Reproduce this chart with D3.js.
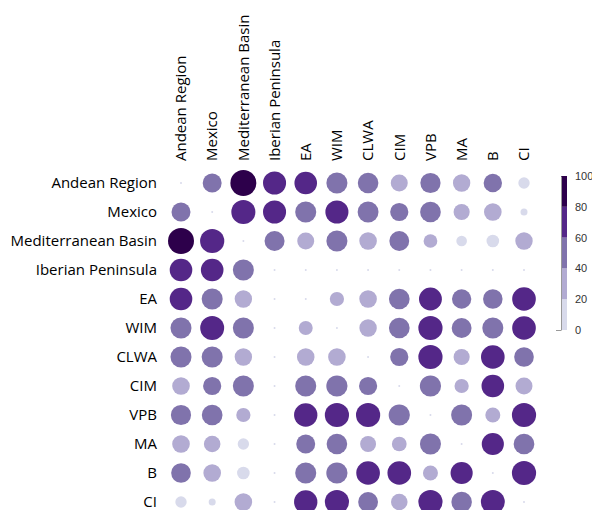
<!DOCTYPE html>
<html>
<head>
<meta charset="utf-8">
<script src="https://cdn.jsdelivr.net/npm/d3@7"></script>
<style>
  html, body { margin: 0; padding: 0; background: #fff; }
  svg { display: block; }
  .lbl { font-family: "Open Sans", sans-serif; font-size: 15px; fill: #000; }
  .cbar text { font-family: "Liberation Sans", Arial, sans-serif; font-size: 11px; fill: #333; }
</style>
</head>
<body>
<svg id="chart" width="592" height="510"></svg>
<script>
// Regions compared in the matrix (same order for rows and columns)
const regions = ["Andean Region", "Mexico", "Mediterranean Basin", "Iberian Peninsula",
                 "EA", "WIM", "CLWA", "CIM", "VPB", "MA", "B", "CI"];

// Pairwise values (0-100), one array per row region
const andeanRegion      = [ 0, 46, 92, 71, 68, 58, 55, 36, 53, 38, 43, 14];
const mexico            = [46,  0, 78, 71, 58, 71, 57, 42, 56, 32, 39,  4];
const mediterranean     = [92, 79,  0, 52, 36, 58, 39, 51, 22, 12, 18, 38];
const iberianPeninsula  = [68, 68, 58,  0,  0,  0,  0,  0,  0,  0,  0,  0];
const ea                = [68, 58, 38,  0,  0, 24, 39, 56, 70, 48, 49, 75];
const wim               = [58, 77, 58,  0, 23,  0, 38, 56, 79, 51, 58, 75];
const clwa              = [58, 58, 38,  0, 39, 39,  0, 42, 79, 32, 75, 50];
const cim               = [39, 42, 58,  0, 58, 59, 42,  0, 59, 24, 68, 36];
const vpb               = [53, 56, 24,  0, 73, 79, 79, 59,  0, 58, 27, 79];
const ma                = [39, 34, 14,  0, 46, 55, 31, 26, 58,  0, 65, 56];
const b                 = [50, 39, 18,  0, 58, 59, 75, 75, 27, 65,  0, 79];
const ci                = [14,  4, 39,  0, 73, 79, 51, 34, 79, 55, 77,  0];

const matrix = [andeanRegion, mexico, mediterranean, iberianPeninsula, ea, wim,
                clwa, cim, vpb, ma, b, ci];

// Colour bins and legend ticks
const binEdges = [0, 20, 40, 60, 80, 100];
const binColors = ["#d8daeb", "#b2abd2", "#8073ac", "#542788", "#2d004b"];
const legendTicks = [0, 20, 40, 60, 80, 100];

const cells = [];
matrix.forEach((row, i) => row.forEach((v, j) => {
  cells.push({ row: regions[i], col: regions[j], value: v });
}));

const svg = d3.select("#chart");

const x = d3.scalePoint().domain(regions).range([181, 524]);
const y = d3.scalePoint().domain(regions).range([183, 502]);
const r = d3.scaleSqrt().domain([0, 100]).range([1, 13.5]);
const color = d3.scaleThreshold().domain(binEdges.slice(1, -1)).range(binColors);

// Circles
svg.append("g")
  .selectAll("circle")
  .data(cells)
  .join("circle")
  .attr("cx", d => x(d.col))
  .attr("cy", d => y(d.row))
  .attr("r", d => r(d.value))
  .attr("fill", d => color(d.value));

// Row labels
svg.append("g")
  .selectAll("text")
  .data(regions)
  .join("text")
  .attr("class", "lbl")
  .attr("x", 157)
  .attr("y", d => y(d))
  .attr("dy", "0.35em")
  .attr("text-anchor", "end")
  .text(d => d);

// Column labels, rotated
svg.append("g")
  .selectAll("text")
  .data(regions)
  .join("text")
  .attr("class", "lbl")
  .attr("transform", d => `translate(${x(d)},161) rotate(-90)`)
  .attr("dy", "0.35em")
  .attr("text-anchor", "start")
  .text(d => d);

// Colour legend
const ly = d3.scaleLinear().domain([0, 100]).range([330, 176]);
const cbar = svg.append("g").attr("class", "cbar");
const barX = 561, barW = 6;

cbar.selectAll("rect")
  .data(binColors.map((c, k) => ({ lo: binEdges[k], hi: binEdges[k + 1], c })))
  .join("rect")
  .attr("x", barX)
  .attr("y", d => ly(d.hi))
  .attr("width", barW)
  .attr("height", d => ly(d.lo) - ly(d.hi))
  .attr("fill", d => d.c);

// left edge with a small base tick
const leftAxis = cbar.append("g")
  .attr("transform", `translate(${barX},0)`)
  .call(d3.axisLeft(ly).tickValues([0]).tickSize(5).tickSizeOuter(0).tickFormat(""));
leftAxis.selectAll("path, line").attr("stroke", "#999").attr("stroke-width", 1);

const rightAxis = cbar.append("g")
  .attr("transform", `translate(${barX + barW},0)`)
  .call(d3.axisRight(ly).tickValues(legendTicks).tickSize(0).tickPadding(8));
rightAxis.select(".domain").remove();
rightAxis.selectAll("text")
  .attr("font-family", "Liberation Sans, Arial, sans-serif")
  .attr("font-size", 11)
  .attr("fill", "#333");
</script>
</body>
</html>
